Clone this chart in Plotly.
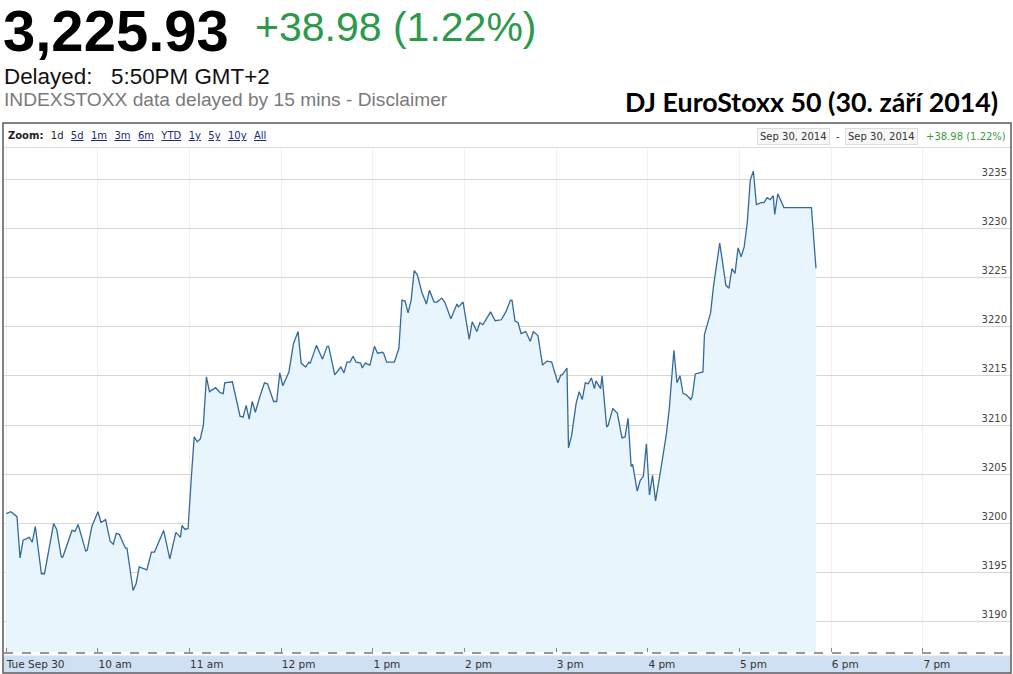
import plotly.graph_objects as go

# ---- data ----
times = [
    "09:00", "09:03", "09:07", "09:09", "09:11", "09:15", "09:17", "09:19", "09:23", "09:25",
    "09:31", "09:33", "09:36", "09:37", "09:43", "09:45", "09:47", "09:52", "09:53", "09:56",
    "10:00", "10:02", "10:05", "10:08", "10:10", "10:12", "10:14", "10:18", "10:19", "10:23",
    "10:25", "10:27", "10:32", "10:35", "10:37", "10:43", "10:47", "10:51", "10:54", "10:55",
    "10:57", "10:59", "11:01", "11:03", "11:05", "11:07", "11:09", "11:11", "11:13", "11:17",
    "11:20", "11:22", "11:23", "11:28", "11:33", "11:35", "11:37", "11:39", "11:41", "11:43",
    "11:46", "11:49", "11:51", "11:55", "11:57", "11:59", "12:01", "12:03", "12:05", "12:08",
    "12:11", "12:13", "12:16", "12:18", "12:19", "12:23", "12:27", "12:30", "12:31", "12:35",
    "12:39", "12:41", "12:43", "12:45", "12:47", "12:49", "12:52", "12:53", "12:55", "12:58",
    "13:01", "13:03", "13:06", "13:07", "13:09", "13:14", "13:17", "13:19", "13:21", "13:23",
    "13:25", "13:27", "13:29", "13:32", "13:35", "13:37", "13:40", "13:42", "13:45", "13:47",
    "13:51", "13:55", "13:56", "13:59", "14:01", "14:03", "14:05", "14:08", "14:10", "14:12",
    "14:17", "14:20", "14:24", "14:27", "14:30", "14:31", "14:33", "14:35", "14:37", "14:40",
    "14:43", "14:45", "14:48", "14:51", "14:54", "14:57", "15:01", "15:03", "15:04", "15:07",
    "15:08", "15:10", "15:13", "15:15", "15:17", "15:19", "15:21", "15:23", "15:25", "15:26",
    "15:29", "15:30", "15:33", "15:34", "15:37", "15:40", "15:43", "15:45", "15:47", "15:49",
    "15:50", "15:53", "15:55", "15:57", "15:59", "16:01", "16:03", "16:05", "16:08", "16:12",
    "16:14", "16:17", "16:19", "16:21", "16:23", "16:25", "16:28", "16:29", "16:31", "16:34",
    "16:36", "16:37", "16:41", "16:43", "16:47", "16:50", "16:51", "16:53", "16:55", "16:57",
    "16:59", "17:01", "17:03", "17:05", "17:07", "17:09", "17:11", "17:14", "17:16", "17:18",
    "17:20", "17:22", "17:23", "17:25", "17:29", "17:47", "17:50",
]
values = [
    3201.0, 3201.2, 3200.7, 3196.5, 3198.3, 3198.6, 3198.1, 3199.7, 3194.9, 3194.9,
    3200.0, 3199.4, 3196.6, 3196.6, 3199.3, 3199.2, 3199.9, 3197.2, 3197.3, 3199.7,
    3201.2, 3200.1, 3200.4, 3198.2, 3197.9, 3199.0, 3198.9, 3197.5, 3197.5, 3193.2,
    3193.9, 3195.6, 3195.3, 3197.1, 3197.1, 3199.3, 3196.4, 3199.1, 3198.6, 3199.8,
    3199.4, 3199.5, 3204.4, 3208.8, 3208.3, 3208.6, 3210.0, 3214.9, 3213.4, 3213.8,
    3213.3, 3213.2, 3214.3, 3214.4, 3210.9, 3210.8, 3212.0, 3210.6, 3212.4, 3211.3,
    3212.9, 3214.3, 3214.2, 3212.4, 3212.4, 3215.3, 3214.0, 3214.8, 3215.4, 3218.3,
    3219.5, 3216.3, 3215.9, 3216.4, 3216.3, 3218.1, 3216.7, 3218.0, 3218.0, 3215.1,
    3215.9, 3215.3, 3216.4, 3216.4, 3217.0, 3216.4, 3216.3, 3215.8, 3216.3, 3216.1,
    3218.0, 3217.3, 3217.4, 3217.3, 3216.4, 3216.4, 3217.8, 3222.7, 3222.6, 3221.4,
    3222.7, 3225.7, 3225.3, 3223.5, 3222.3, 3223.7, 3222.5, 3222.5, 3222.9, 3222.5,
    3220.8, 3222.3, 3222.0, 3222.5, 3220.8, 3218.7, 3220.5, 3219.5, 3220.4, 3220.2,
    3221.5, 3220.6, 3220.7, 3221.5, 3222.7, 3222.7, 3220.6, 3220.4, 3219.3, 3219.5,
    3218.5, 3219.5, 3219.1, 3216.1, 3216.5, 3216.4, 3214.3, 3215.1, 3215.1, 3215.8,
    3207.7, 3208.9, 3212.2, 3213.4, 3212.6, 3214.3, 3214.2, 3214.8, 3213.7, 3214.5,
    3213.7, 3215.0, 3209.8, 3210.0, 3211.7, 3211.2, 3208.7, 3208.8, 3210.7, 3205.8,
    3206.0, 3203.3, 3204.4, 3204.8, 3208.1, 3202.9, 3204.9, 3202.3, 3205.1, 3209.0,
    3211.7, 3217.6, 3214.3, 3215.0, 3213.2, 3213.1, 3212.6, 3212.9, 3215.2, 3215.3,
    3215.4, 3219.2, 3221.4, 3224.2, 3228.5, 3225.3, 3224.2, 3223.9, 3225.9, 3225.4,
    3228.0, 3227.1, 3228.1, 3230.5, 3234.9, 3235.8, 3232.4, 3232.6, 3232.6, 3233.1,
    3232.9, 3233.3, 3231.4, 3233.5, 3232.1, 3232.1, 3225.93,
]
hour_ticks = ["09:00", "10:00", "11:00", "12:00", "13:00", "14:00", "15:00",
              "16:00", "17:00", "18:00", "19:00"]
hour_labels = ["Tue Sep 30", "10 am", "11 am", "12 pm", "1 pm", "2 pm", "3 pm",
               "4 pm", "5 pm", "6 pm", "7 pm"]
y_ticks = [3190, 3195, 3200, 3205, 3210, 3215, 3220, 3225, 3230, 3235]
zoom_links = ["5d", "1m", "3m", "6m", "YTD", "1y", "5y", "10y", "All"]

last_price = "3,225.93"
change_text = "+38.98 (1.22%)"
title_text = "DJ EuroStoxx 50 (30. září 2014)"
date_text = "Sep 30, 2014"

DAY = "2014-09-30 "
x = [DAY + t for t in times]

# ---- layout geometry ----
W, H = 1013, 674
ML, MR, MT, MB = 4, 3, 148, 22
PW, PH = W - ML - MR, H - MT - MB


def px(xp):
    return (xp - ML) / PW


def py(yp):
    return (H - MB - yp) / PH


fig = go.Figure()
fig.add_trace(go.Scatter(
    x=x, y=values, mode="lines",
    line=dict(color="#35699a", width=1.3),
    fill="tozeroy", fillcolor="#e8f5fd",
    hoverinfo="x+y", showlegend=False,
))

base_font = "DejaVu Sans, Verdana, sans-serif"

fig.update_layout(
    width=W, height=H,
    margin=dict(l=ML, r=MR, t=MT, b=MB, pad=0),
    paper_bgcolor="white", plot_bgcolor="white",
    showlegend=False,
    xaxis=dict(
        type="date",
        range=[DAY + "08:58:30", DAY + "19:57:00"],
        tickvals=[DAY + t for t in hour_ticks],
        ticktext=hour_labels,
        ticks="inside", ticklen=4, tickcolor="#888", tickwidth=1,
        ticklabelposition="outside right",
        ticklabelstandoff=4,
        tickfont=dict(family=base_font, size=10.5, color="#333"),
        showgrid=True, gridcolor="#f0f0f0", gridwidth=1,
        zeroline=False, showline=False, fixedrange=True,
    ),
    yaxis=dict(
        range=[3186.95, 3238.15],
        tickvals=y_ticks,
        side="right",
        ticks="",
        ticklabelposition="inside top",
        tickfont=dict(family=base_font, size=10, color="#444"),
        showgrid=True, gridcolor="#d6d6d6", gridwidth=1,
        zeroline=False, showline=False, fixedrange=True,
    ),
)

shapes = [
    # x-axis band
    dict(type="rect", xref="paper", yref="paper",
         x0=px(3.5), x1=px(1010.5), y0=py(672.5), y1=py(655.5),
         fillcolor="#cfe0f2", line=dict(width=0), layer="below"),
    # dashed baseline
    dict(type="line", xref="paper", yref="paper",
         x0=px(4), x1=px(1010), y0=py(653), y1=py(653),
         line=dict(color="#333", width=1, dash="dash")),
    # separator under the zoom bar
    dict(type="line", xref="paper", yref="paper",
         x0=px(4), x1=px(1010), y0=py(147.5), y1=py(147.5),
         line=dict(color="#dddddd", width=1)),
    # chart frame
    dict(type="rect", xref="paper", yref="paper",
         x0=px(3), x1=px(1011), y0=py(673), y1=py(123),
         line=dict(color="#5a5a5a", width=1.5), fillcolor="rgba(0,0,0,0)"),
]
fig.update_layout(shapes=shapes)

NB = "\u00a0"
GAP = NB * 2 + "\u200a"
link = "#1c2a7a"


def u(t):
    return f"<u>{t}</u>"


zoom_text = ("<span style='color:#222'><b>Zoom:</b>" + GAP + "1d</span>" + GAP +
             GAP.join(u(s) for s in zoom_links))

ann = [
    dict(text=f"<b>{last_price}</b>", x=px(1), y=py(31), xanchor="left", yanchor="middle",
         font=dict(family="Liberation Sans, Arial, sans-serif", size=58, color="#000")),
    dict(text=change_text, x=px(253), y=py(27), xanchor="left", yanchor="middle",
         font=dict(family="Liberation Sans, Arial, sans-serif", size=41, color="#2b9a4c")),
    dict(text="Delayed:" + NB * 3 + "5:50PM GMT+2", x=px(2), y=py(76), xanchor="left", yanchor="middle",
         font=dict(family="Liberation Sans, Arial, sans-serif", size=22.4, color="#111")),
    dict(text="INDEXSTOXX data delayed by 15 mins - Disclaimer", x=px(2), y=py(100),
         xanchor="left", yanchor="middle",
         font=dict(family="Liberation Sans, Arial, sans-serif", size=19.2, color="#7a7a7a")),
    dict(text=f"<b>{title_text}</b>", x=px(1000), y=py(102), xanchor="right", yanchor="middle",
         font=dict(family="Lato, Open Sans, sans-serif", size=26.8, color="#000")),
    dict(text=zoom_text, x=px(6), y=py(135), xanchor="left", yanchor="middle",
         font=dict(family=base_font, size=10, color=link)),
    dict(text=date_text, x=px(793.5), y=py(136), xanchor="center", yanchor="middle",
         bgcolor="#f7f7f7", bordercolor="#dcdcdc", borderwidth=1, borderpad=2,
         font=dict(family=base_font, size=10, color="#333")),
    dict(text="-", x=px(837.5), y=py(136), xanchor="center", yanchor="middle",
         font=dict(family=base_font, size=10, color="#333")),
    dict(text=date_text, x=px(881.5), y=py(136), xanchor="center", yanchor="middle",
         bgcolor="#f7f7f7", bordercolor="#dcdcdc", borderwidth=1, borderpad=2,
         font=dict(family=base_font, size=10, color="#333")),
    dict(text=change_text, x=px(1008), y=py(136), xanchor="right", yanchor="middle",
         font=dict(family=base_font, size=10, color="#3a9a3a")),
]
for a in ann:
    a.update(xref="paper", yref="paper", showarrow=False)
fig.update_layout(annotations=ann)

fig.write_html(
    "out.html",
    config={"displayModeBar": False},
    post_script="document.body.style.margin='0';document.body.style.padding='0';",
)
